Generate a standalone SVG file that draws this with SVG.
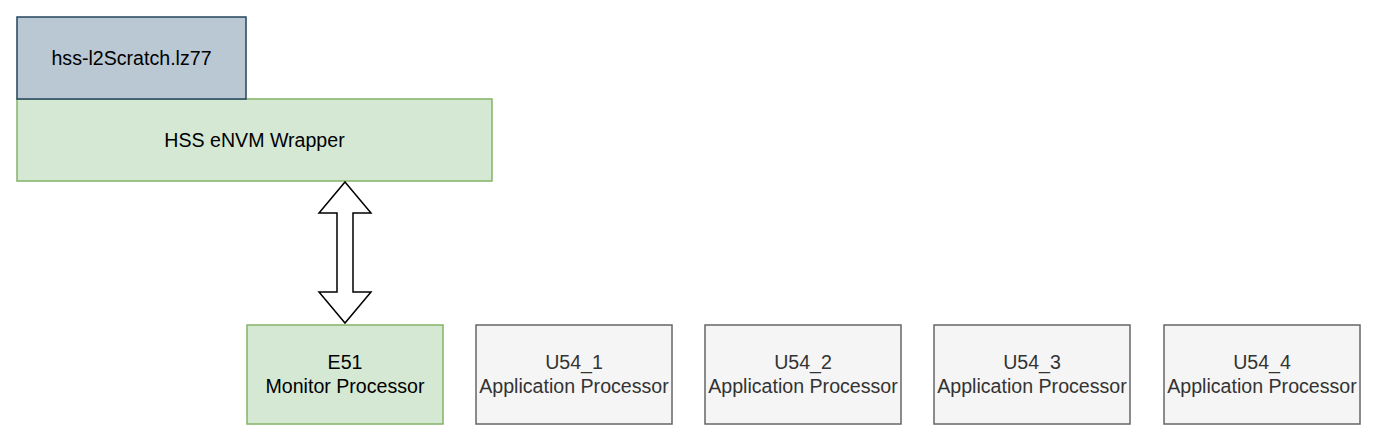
<svg xmlns="http://www.w3.org/2000/svg" width="1378" height="441" viewBox="0 0 1378 441">
<style>
text{font-family:"Liberation Sans",Arial,sans-serif;font-size:19.6px;text-anchor:middle;}
.blue{fill:#bac8d3;stroke:#23445d;stroke-width:1.5;}
.green{fill:#d5e8d4;stroke:#82b366;stroke-width:1.5;}
.grey{fill:#f5f5f5;stroke:#666666;stroke-width:1.5;}
.dark{fill:#000000;}
.gtxt{fill:#333333;}
</style>
<rect width="1378" height="441" fill="#ffffff"/>
<g id="wrapper">
<rect class="green" x="17" y="99" width="475" height="82"/>
<text class="dark" x="254.5" y="147">HSS eNVM Wrapper</text>
</g>
<g id="scratch">
<rect class="blue" x="17" y="17" width="229" height="82"/>
<text class="dark" x="131.5" y="65">hss-l2Scratch.lz77</text>
</g>
<g id="connectors">
<path d="M345,182 L371,213 L353,213 L353,292 L371,292 L345,323 L319,292 L337,292 L337,213 L319,213 Z" fill="#ffffff" stroke="#000000" stroke-width="1.5" stroke-linejoin="miter"/>
</g>
<g id="e51">
<rect class="green" x="247" y="325" width="196" height="99"/>
<text class="dark" x="345" y="369">E51</text>
<text class="dark" x="345" y="393">Monitor Processor</text>
</g>
<g id="u54_1">
<rect class="grey" x="476" y="325" width="196" height="99"/>
<text class="gtxt" x="574" y="369">U54_1</text>
<text class="gtxt" x="574" y="393">Application Processor</text>
</g>
<g id="u54_2">
<rect class="grey" x="705" y="325" width="196" height="99"/>
<text class="gtxt" x="803" y="369">U54_2</text>
<text class="gtxt" x="803" y="393">Application Processor</text>
</g>
<g id="u54_3">
<rect class="grey" x="934" y="325" width="196" height="99"/>
<text class="gtxt" x="1032" y="369">U54_3</text>
<text class="gtxt" x="1032" y="393">Application Processor</text>
</g>
<g id="u54_4">
<rect class="grey" x="1164" y="325" width="196" height="99"/>
<text class="gtxt" x="1262" y="369">U54_4</text>
<text class="gtxt" x="1262" y="393">Application Processor</text>
</g>
</svg>
